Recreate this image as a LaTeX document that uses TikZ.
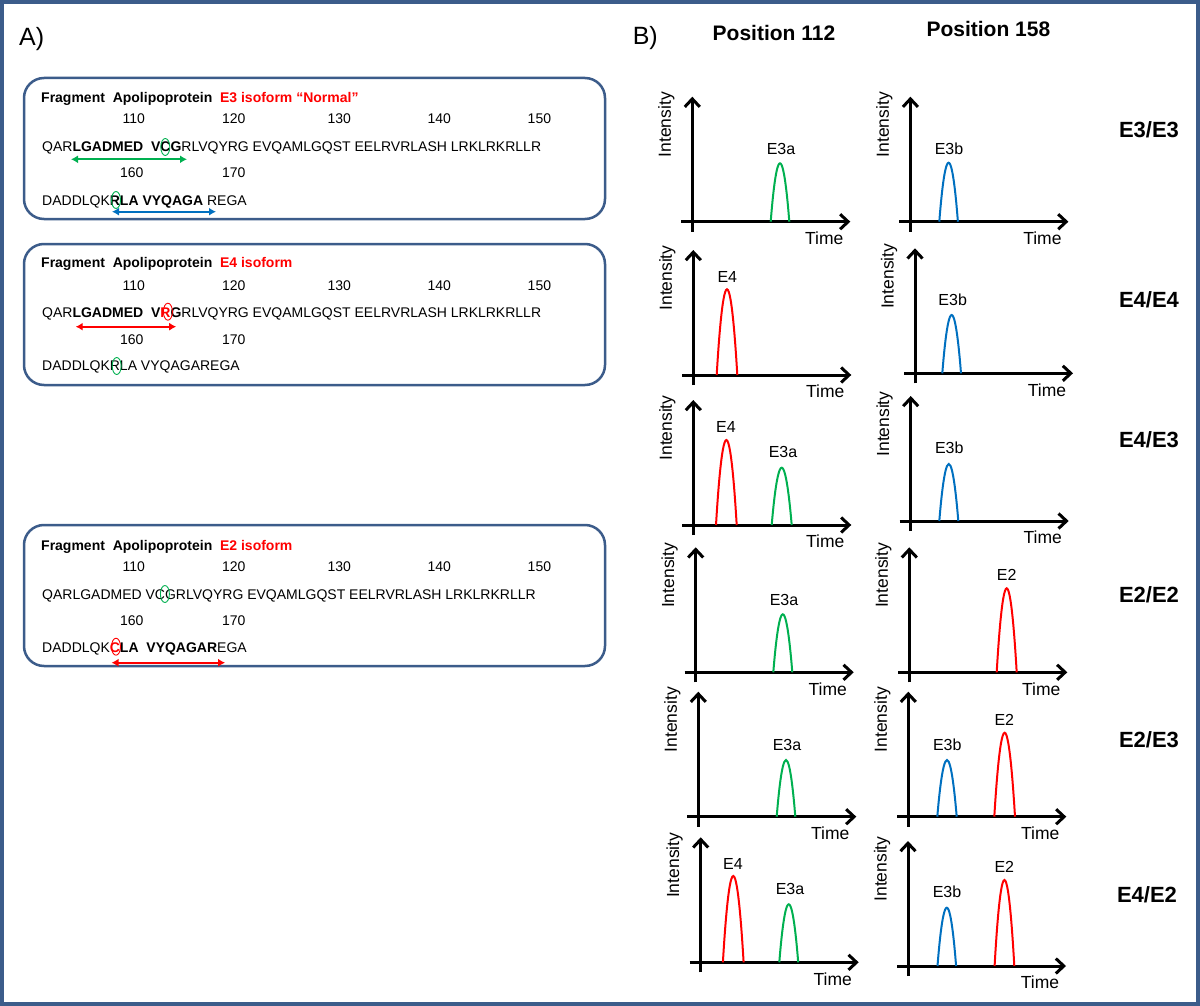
\documentclass[tikz,border=0pt]{standalone}
\usepackage{fontspec}
\setmainfont{Liberation Sans}
\usetikzlibrary{arrows.meta,shapes.geometric}
\definecolor{frameblue}{RGB}{60,92,138}
\definecolor{pkgreen}{RGB}{0,176,80}
\definecolor{pkblue}{RGB}{0,112,192}
\definecolor{pkred}{RGB}{255,0,0}
\newcommand\fs[1]{\fontsize{#1}{#1}\selectfont}
% numbers row: prefix, baseline
\newcommand\numrow[2]{%
  \node[num] (#1a) at (133.7,#2) {110};
  \node[num] (#1b) at (233.8,#2) {120};
  \node[num] (#1c) at (339.2,#2) {130};
  \node[num] (#1d) at (439.3,#2) {140};
  \node[num] (#1e) at (539.4,#2) {150};}
\newcommand\numrowb[2]{%
  \node[num] (#1a) at (131.8,#2) {160};
  \node[num] (#1b) at (233.8,#2) {170};}
% chart: name, ox, oy
\newcommand\chart[3]{%
  \coordinate (#1) at (#2,#3);
  \coordinate (#1yb) at (#2,#3+10);
  \coordinate (#1yt) at (#2,#3-125);
  \coordinate (#1xl) at (#2-11,#3);
  \coordinate (#1xr) at (#2+158,#3);
  \draw[axisline] (#1yb) -- (#1yt);
  \draw[axisline] (#1xl) -- (#1xr);
  \node[axlabel, rotate=90] (#1int) at (#2-26,#3-97) {Intensity};
  \node[axlabel] (#1time) at (#2+132,#3+16.7) {Time};}
% peak: name, colour, x1, x2, top, base, label, lx, ly
\newcommand\peak[9]{%
  \draw[peakline, #2] (#3,#6) parabola bend ({(#3+#4)/2},#5) (#4,#6);
  \node[pklabel] (#1) at (#8,#9) {#7};}
\begin{document}
\begin{tikzpicture}[x=1pt,y=-1pt,
  seqbox/.style={draw=frameblue, line width=2.5pt, rounded corners=20pt, minimum width=581pt, minimum height=141pt, inner sep=0pt},
  seq/.style={anchor=base west, inner sep=0pt, font=\fs{14}},
  num/.style={anchor=base, inner sep=0pt, font=\fs{14}},
  ttl/.style={anchor=base west, inner sep=0pt, font=\fs{14}\bfseries},
  ring/.style={draw, ellipse, line width=0.9pt, minimum width=9pt, minimum height=17pt, inner sep=0pt},
  seqarrow/.style={line width=2pt, {Latex[length=7pt,width=8pt]}-{Latex[length=7pt,width=8pt]}},
  axisline/.style={line width=3pt, -{Straight Barb[length=8pt,width=15pt]}},
  peakline/.style={line width=2pt},
  axlabel/.style={inner sep=0pt, font=\fs{17.5}},
  pklabel/.style={inner sep=0pt, font=\fs{16}},
  panel/.style={inner sep=0pt, font=\fs{25}},
  header/.style={inner sep=0pt, font=\fs{21}\bfseries},
  geno/.style={inner sep=0pt, font=\fs{22}\bfseries}]
\useasboundingbox (0,0) rectangle (1200,1006);
\fill[white] (0,0) rectangle (1200,1006);
\draw[line width=4pt, frameblue] (2,2) rectangle (1198,1004);

% ---------- Panel A ----------
\node[panel] (pA) at (31.7,39) {A)};

% box E3
\node[seqbox] (box1) at (314.5,148.5) {};
\node[ttl] (b1t) at (41,102.7) {Fragment\ \ Apolipoprotein\ \ \textcolor{pkred}{E3 isoform “Normal”}};
\numrow{b1n}{124}
\node[seq] (b1s1) at (42,151.7) {QAR\textbf{LGADMED\ \ VCG}RLVQYRG EVQAMLGQST EELRVRLASH LRKLRKRLLR};
\numrowb{b1m}{177.3}
\node[seq] (b1s2) at (42,205) {DADDLQK\textbf{RLA VYQAGA} REGA};
\node[ring, pkgreen] (b1r1) at (165.3,147) {};
\node[ring, pkgreen] (b1r2) at (116,200) {};
\coordinate (b1a1l) at (71,159.3);
\coordinate (b1a1r) at (187,159.3);
\draw[seqarrow, pkgreen] (b1a1l) -- (b1a1r);
\coordinate (b1a2l) at (112,211.7);
\coordinate (b1a2r) at (216,211.7);
\draw[seqarrow, pkblue] (b1a2l) -- (b1a2r);

% box E4
\node[seqbox] (box2) at (314.5,314.5) {};
\node[ttl] (b2t) at (41,267.7) {Fragment\ \ Apolipoprotein\ \ \textcolor{pkred}{E4 isoform}};
\numrow{b2n}{290}
\node[seq] (b2s1) at (42,317.7) {QAR\textbf{LGADMED\ \ V\textcolor{pkred}{R}G}RLVQYRG EVQAMLGQST EELRVRLASH LRKLRKRLLR};
\numrowb{b2m}{344}
\node[seq] (b2s2) at (42,370) {DADDLQKRLA VYQAGAREGA};
\node[ring, pkred] (b2r1) at (167.9,311.7) {};
\node[ring, pkgreen] (b2r2) at (116.7,366) {};
\coordinate (b2a1l) at (75.7,326.7);
\coordinate (b2a1r) at (176.2,326.7);
\draw[seqarrow, pkred] (b2a1l) -- (b2a1r);

% box E2
\node[seqbox] (box3) at (314.5,595.5) {};
\node[ttl] (b3t) at (41,550) {Fragment\ \ Apolipoprotein\ \ \textcolor{pkred}{E2 isoform}};
\numrow{b3n}{571}
\node[seq] (b3s1) at (42,599) {QARLGADMED VCGRLVQYRG EVQAMLGQST EELRVRLASH LRKLRKRLLR};
\numrowb{b3m}{625}
\node[seq] (b3s2) at (42,652.7) {DADDLQK\textbf{\textcolor{pkred}{C}LA\ \ VYQAGAR}EGA};
\node[ring, pkgreen] (b3r1) at (164.9,594) {};
\node[ring, pkred] (b3r2) at (116,646.7) {};
\coordinate (b3a1l) at (111.5,662.7);
\coordinate (b3a1r) at (225.1,662.7);
\draw[seqarrow, pkred] (b3a1l) -- (b3a1r);

% ---------- Panel B ----------
\node[panel] (pB) at (645.3,38) {B)};
\node[header] (h112) at (774,33.3) {Position 112};
\node[header] (h158) at (988.4,29.3) {Position 158};

\node[geno] (g1) at (1149,130) {E3/E3};
\node[geno] (g2) at (1149,300) {E4/E4};
\node[geno] (g3) at (1149,440) {E4/E3};
\node[geno] (g4) at (1149,595) {E2/E2};
\node[geno] (g5) at (1149,740) {E2/E3};
\node[geno] (g6) at (1147,895) {E4/E2};

% row 1
\chart{c1L}{692.3}{221.7}
\peak{p1La}{pkgreen}{770.7}{789.3}{163.3}{221.7}{E3a}{781}{149}
\chart{c1R}{910.4}{221.7}
\peak{p1Rb}{pkblue}{939.3}{957.9}{162.7}{221.7}{E3b}{949}{149}
% row 2
\chart{c2L}{693.3}{375}
\peak{p2L4}{pkred}{716.7}{737.3}{289.3}{375}{E4}{727.3}{277}
\chart{c2R}{915}{373.3}
\peak{p2Rb}{pkblue}{942.3}{961}{315}{373.3}{E3b}{952.7}{300}
% row 3
\chart{c3L}{693.3}{525}
\peak{p3L4}{pkred}{716}{736.7}{440}{525}{E4}{726}{427}
\peak{p3La}{pkgreen}{771.7}{791.7}{467.7}{525}{E3a}{783}{452}
\chart{c3R}{910.7}{521}
\peak{p3Rb}{pkblue}{939.3}{958.3}{464}{521}{E3b}{949.3}{448}
% row 4
\chart{c4L}{695.7}{672.3}
\peak{p4La}{pkgreen}{773.3}{792.3}{614.3}{672.3}{E3a}{784}{600}
\chart{c4R}{909.3}{672.3}
\peak{p4R2}{pkred}{996.7}{1016.7}{588.3}{672.3}{E2}{1006.7}{575}
% row 5
\chart{c5L}{698.3}{816.7}
\peak{p5La}{pkgreen}{776.7}{795.3}{760}{816.7}{E3a}{787}{745}
\chart{c5R}{908.3}{816.7}
\peak{p5Rb}{pkblue}{937.3}{956.7}{760}{816.7}{E3b}{947.3}{745}
\peak{p5R2}{pkred}{994.3}{1015}{732.7}{816.7}{E2}{1004.3}{720}
% row 6
\chart{c6L}{700.7}{962.3}
\peak{p6L4}{pkred}{722.9}{743.6}{876}{962.3}{E4}{732.9}{864}
\peak{p6La}{pkgreen}{779.3}{798.2}{904.3}{962.3}{E3a}{790}{889}
\chart{c6R}{908}{966}
\peak{p6Rb}{pkblue}{937.5}{956.1}{907.7}{966}{E3b}{947}{892}
\peak{p6R2}{pkred}{994.6}{1014.3}{880}{966}{E2}{1004.3}{867}
\end{tikzpicture}
\end{document}
